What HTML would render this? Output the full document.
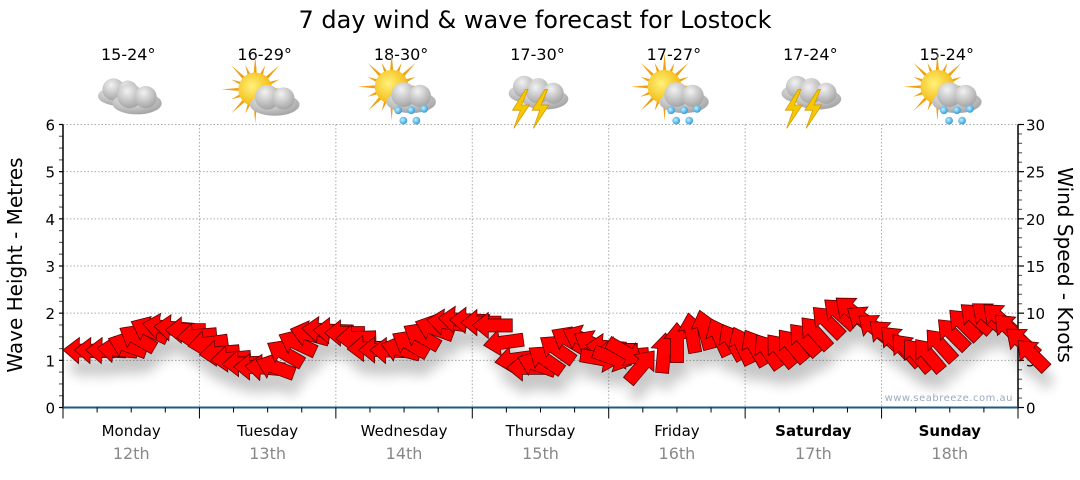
<!DOCTYPE html>
<html><head><meta charset="utf-8">
<style>
html,body{margin:0;padding:0;background:#fff;}
body{width:1080px;height:475px;overflow:hidden;font-family:"Liberation Sans",sans-serif;}
svg text{font-family:"DejaVu Sans","Liberation Sans",sans-serif;}
</style></head>
<body>
<svg id="chart" width="1080" height="475" viewBox="0 0 1080 475" xmlns="http://www.w3.org/2000/svg">
<defs>
  <filter id="blur" x="-50%" y="-50%" width="200%" height="200%"><feGaussianBlur stdDeviation="6"/></filter>
  <radialGradient id="cloudG" cx="0.4" cy="0.3" r="0.8"><stop offset="0" stop-color="#f2f2f2"/><stop offset="1" stop-color="#9a9a9a"/></radialGradient>
  <radialGradient id="sunG" cx="0.4" cy="0.4" r="0.7"><stop offset="0" stop-color="#fff27a"/><stop offset="1" stop-color="#f2b000"/></radialGradient>
  <radialGradient id="dropG" cx="0.4" cy="0.4" r="0.7"><stop offset="0" stop-color="#bfefff"/><stop offset="1" stop-color="#1e90d6"/></radialGradient>
</defs>
<text x="535" y="28" font-size="24" text-anchor="middle" fill="#000">7 day wind &amp; wave forecast for Lostock</text>
<g id="grid"></g>
<g id="axes"></g>
<g id="icons"></g>
<g id="shadow" filter="url(#blur)" opacity="0.22"></g>
<g id="arrows"></g>
<text x="1013" y="401" font-size="10" text-anchor="end" fill="#9aabc4" letter-spacing="0.5">www.seabreeze.com.au</text>
<text transform="translate(22,265) rotate(-90)" font-size="20" text-anchor="middle" fill="#000">Wave Height - Metres</text>
<text transform="translate(1058,265) rotate(90)" font-size="20" text-anchor="middle" fill="#000">Wind Speed - Knots</text>
</svg>
<script>
const days = ["Monday","Tuesday","Wednesday","Thursday","Friday","Saturday","Sunday"];
const dates = ["12th","13th","14th","15th","16th","17th","18th"];
const temps = ["15-24°","16-29°","18-30°","17-30°","17-27°","17-24°","15-24°"];
const weather = ["cloudy","partly","shower","storm","shower","storm","shower"];
const waveTicks = [0,1,2,3,4,5,6];
const windTicks = [0,5,10,15,20,25,30];
// wind speed (knots) every 2 hours
const windSpeed = [6.1,6.1,6.1,6.3,7.3,8.4,9.1,8.9,8.6,8.2,7.4,6.5,5.6,
 5.0,4.6,4.3,4.4,5.0,6.8,7.7,8.3,8.4,8.2,7.9,7.3,
 6.2,6.1,6.1,6.7,7.8,8.6,9.1,9.3,9.5,9.3,9.0,8.7,
 6.6,4.8,4.2,5.3,6.3,7.4,8.2,8.2,7.8,6.6,6.1,5.3,
 4.8,4.5,4.8,6.0,7.9,9.0,10.0,10.3,9.4,8.8,8.5,8.2,
 7.7,7.7,8.2,8.8,9.5,10.6,11.4,11.6,10.5,9.7,9.1,8.5,
 7.7,7.2,7.2,8.2,9.3,10.3,10.9,11.0,10.9,9.8,8.3,7.1];
// compass bearing the arrow points towards (0=N, 90=E)
const windDir = [272,272,272,275,290,300,295,280,275,270,265,262,265,
 265,268,270,275,290,300,295,285,275,272,270,268,
 268,270,272,285,300,300,290,278,275,272,270,270,
 262,262,270,290,305,305,300,295,300,275,270,265,
 100,110,120,40,5,0,350,345,335,330,335,330,
 325,320,320,318,318,315,312,310,305,308,312,315,
 318,320,320,318,315,315,312,310,312,315,310,315];

const NS="http://www.w3.org/2000/svg";
const X0=63, X1=1018, Y0=407.5, Y1=124.5;
const xDay = d => X0 + d*(X1-X0)/7;
const yWave = v => Y0 - v*(Y0-Y1)/6;
const yWind = v => Y0 - v*(Y0-Y1)/30;
const xStep = i => X0 + i*(X1-X0)/84;
function mk(tag, attrs, parent){const e=document.createElementNS(NS,tag);for(const k in attrs)e.setAttribute(k,attrs[k]);parent.appendChild(e);return e;}

const grid=document.getElementById('grid'), axes=document.getElementById('axes');
waveTicks.forEach(v=>{
  if(v>0){const l=mk('line',{x1:X0,x2:X1,y1:yWave(v),y2:yWave(v),stroke:'#aaa','stroke-dasharray':'1.5,2','stroke-width':1},grid);
  
  }
  const t=mk('text',{x:X0-8,y:yWave(v)+6,'font-size':15,'text-anchor':'end',fill:'#000'},axes);t.textContent=v;
  
  
});
for(let m=0;m<=24;m++){const y=Y0-m*(Y0-Y1)/24;mk('line',{x1:X0-4,x2:X0,y1:y,y2:y,stroke:m%4?'#666':'#000','stroke-width':1.2},axes);}
windTicks.forEach(v=>{
  const t=mk('text',{x:X1+8,y:yWind(v)+6,'font-size':15,fill:'#000'},axes);t.textContent=v;
  
  
});
for(let m=0;m<=30;m++){const y=yWind(m);mk('line',{x1:X1,x2:X1+(m%5?4:6),y1:y,y2:y,stroke:m%5?'#666':'#000','stroke-width':1.2},axes);}
mk('line',{x1:X0,x2:X0,y1:Y1,y2:Y0+1,stroke:'#000','stroke-width':1.5},axes);
mk('line',{x1:X1,x2:X1,y1:Y1,y2:Y0+1,stroke:'#000','stroke-width':1.5},axes);
mk('line',{x1:X0,x2:X1,y1:Y0,y2:Y0,stroke:'#1d5a86','stroke-width':2},axes);
for(let q=0;q<=28;q++){const x=X0+q*(X1-X0)/28;mk('line',{x1:x,x2:x,y1:Y0,y2:Y0+(q%4?5:11),stroke:'#000','stroke-width':1},axes);}
for(let d=1;d<7;d++){const l=mk('line',{x1:xDay(d),x2:xDay(d),y1:Y1,y2:Y0,stroke:'#aaa','stroke-dasharray':'1.5,2'},grid);
  
  }
days.forEach((d,i)=>{
  const cx=xDay(i+0.5);
  const t=mk('text',{x:cx,y:436,'font-size':15,'text-anchor':'middle',fill:'#000','font-weight':i>=5?'bold':'normal'},axes);t.textContent=d;
  
  
  const t2=mk('text',{x:cx,y:459,'font-size':16,'text-anchor':'middle',fill:'#888'},axes);t2.textContent=dates[i];
  
  
  const t3=mk('text',{x:cx-3,y:60,'font-size':16,'text-anchor':'middle',fill:'#000'},axes);t3.textContent=temps[i];
  
  
});

// icons
const icons=document.getElementById('icons');
function cloud(g,x,y,s){
  mk('ellipse',{cx:x,cy:y+6*s,rx:20*s,ry:9*s,fill:'url(#cloudG)'},g);
  mk('circle',{cx:x-6*s,cy:y,r:10*s,fill:'url(#cloudG)'},g);
  mk('circle',{cx:x+7*s,cy:y+1*s,r:9*s,fill:'url(#cloudG)'},g);
}
function sun(g,x,y){
  for(let k=0;k<16;k++){const a=k*Math.PI/8,r=k%2?20:26;
    mk('polygon',{points:`${x+Math.cos(a-0.12)*11},${y+Math.sin(a-0.12)*11} ${x+Math.cos(a)*r},${y+Math.sin(a)*r} ${x+Math.cos(a+0.12)*11},${y+Math.sin(a+0.12)*11}`,fill:'#f0a010'},g);}
  mk('circle',{cx:x,cy:y,r:13,fill:'url(#sunG)'},g);
}
function drops(g,x,y){[[-10,0],[0,0],[10,-1],[-6,8],[4,8]].forEach(p=>mk('circle',{cx:x+p[0],cy:y+p[1],r:3,fill:'url(#dropG)'},g));}
function bolt(g,x,y){mk('polygon',{points:`${x+4},${y-12} ${x-6},${y+4} ${x},${y+4} ${x-5},${y+18} ${x+7},${y} ${x+1},${y} ${x+6},${y-12}`,fill:'#f5c800',stroke:'#d89a00','stroke-width':0.6},g);}
weather.forEach((w,i)=>{
  const cx=xDay(i+0.5)-2, cy=92;
  const outer=mk('g',{transform:`translate(${cx},${cy}) scale(1.3) translate(${-cx},${-cy})`},icons);
  
  
  const g=outer;
  if(w==='cloudy'){cloud(g,cx-7,cy-2,0.85);cloud(g,cx+6,cy+3,0.95);}
  else if(w==='partly'){sun(g,cx-8,cy-2);cloud(g,cx+7,cy+4,0.95);}
  else if(w==='shower'){sun(g,cx-8,cy-4);cloud(g,cx+7,cy+2,0.95);drops(g,cx+7,cy+14);}
  else {cloud(g,cx-6,cy-4,0.85);cloud(g,cx+5,cy,0.9);bolt(g,cx+1,cy+10);bolt(g,cx-14,cy+10);}
});

// arrows (tip anchored at the data point)
const arrowsG=document.getElementById('arrows'), shadowG=document.getElementById('shadow');
const shape="M0,0 L-16,-13 L-16,-6.5 L-40,-6.5 L-40,6.5 L-16,6.5 L-16,13 Z";
windSpeed.forEach((v,i)=>{
  const x=xStep(i), y=yWind(v), rot=windDir[i]-90;
  const s=mk('path',{d:shape,fill:'#000',transform:`translate(${x+4},${y+16}) rotate(${rot})`},shadowG);
  
  
  const a=mk('path',{d:shape,fill:'#ff0000',stroke:'#5a0000','stroke-width':0.8,transform:`translate(${x},${y}) rotate(${rot})`},arrowsG);
  
  
});
</script>
</body></html>
